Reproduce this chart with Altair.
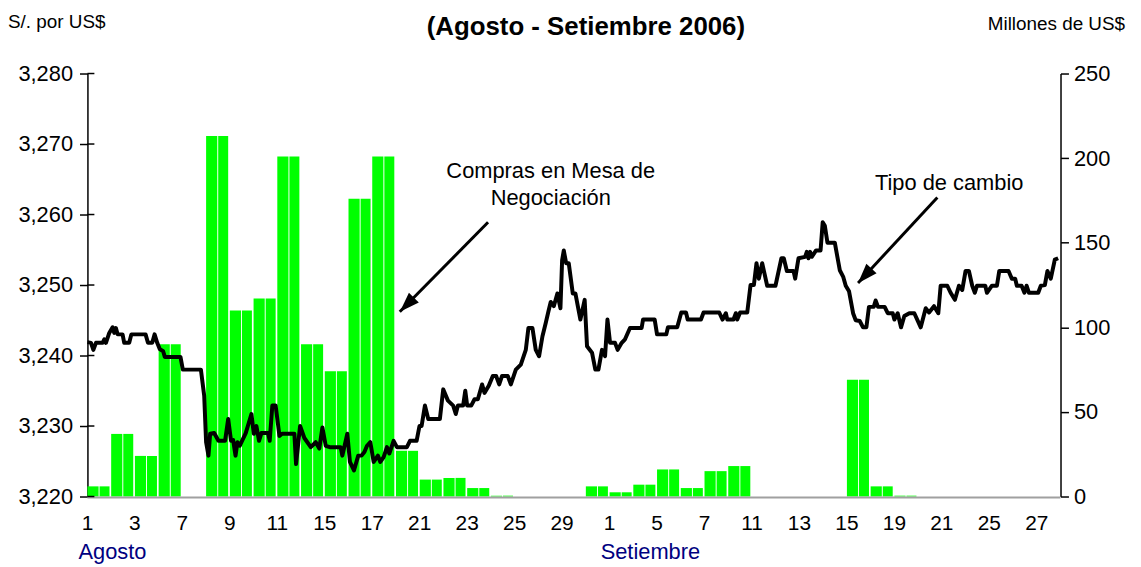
import altair as alt
import pandas as pd

FONT = "Liberation Sans"

# Trading days (Aug 2006 and Sep 2006), one entry per bar slot
dias = ["1", "2", "3", "4", "7", "8", "9", "10", "11", "14", "15", "16", "17", "18",
        "21", "22", "23", "24", "25", "28", "29", "31",
        "1", "4", "5", "6", "7", "8", "11", "12", "13", "14", "15", "18", "19", "20",
        "21", "22", "25", "26", "27"]

# Compras en Mesa de Negociación (millones de US$), per trading day
compras = [6, 37, 24, 90, 0, 213, 110, 117, 201, 90, 74, 176, 201, 27, 10, 11, 5, 0.5,
           0, 0, 0, 6,
           2.5, 7, 16, 5, 15, 18, 0, 0, 0, 0, 69, 6, 0.5, 0, 0, 0, 0, 0, 0]

meses = ["Agosto", "Setiembre"]
mes_inicio = [0, 22]

# Tipo de cambio intradiario: (trading-day index, S/. por US$)
tipo_cambio = [
    (0.00, 3.2419), (0.15, 3.2418), (0.25, 3.2408), (0.36, 3.2418), (0.64, 3.2418), (0.71, 3.2423), (0.78, 3.2418), (0.92, 3.2432), (1.06, 3.2440), (1.13, 3.2432),
    (1.20, 3.2439), (1.27, 3.2430), (1.48, 3.2430), (1.55, 3.2418), (1.76, 3.2418), (1.85, 3.2430), (2.45, 3.2430), (2.55, 3.2418), (2.73, 3.2418), (2.83, 3.2430),
    (2.94, 3.2418), (3.05, 3.2409), (3.19, 3.2406), (3.26, 3.2398), (3.92, 3.2398), (4.02, 3.2380), (4.78, 3.2380), (4.92, 3.2343), (5.00, 3.2277), (5.10, 3.2258),
    (5.17, 3.2289), (5.34, 3.2290), (5.52, 3.2279), (5.80, 3.2279), (5.93, 3.2310), (6.05, 3.2279), (6.14, 3.2280), (6.24, 3.2258), (6.32, 3.2277), (6.42, 3.2272),
    (6.53, 3.2280), (6.67, 3.2290), (6.91, 3.2317), (7.01, 3.2289), (7.12, 3.2300), (7.23, 3.2279), (7.33, 3.2290), (7.61, 3.2290), (7.68, 3.2279), (7.79, 3.2329),
    (7.93, 3.2329), (8.09, 3.2286), (8.20, 3.2289), (8.72, 3.2289), (8.79, 3.2246), (8.96, 3.2300), (9.14, 3.2283), (9.41, 3.2270), (9.62, 3.2277), (9.77, 3.2268),
    (9.90, 3.2298), (10.04, 3.2272), (10.21, 3.2270), (10.67, 3.2270), (10.74, 3.2258), (10.95, 3.2289), (11.06, 3.2249), (11.23, 3.2237), (11.41, 3.2258), (11.55, 3.2258),
    (11.67, 3.2263), (11.78, 3.2272), (11.92, 3.2277), (12.06, 3.2249), (12.24, 3.2258), (12.34, 3.2249), (12.48, 3.2256), (12.62, 3.2270), (12.72, 3.2261), (12.90, 3.2279),
    (13.04, 3.2270), (13.46, 3.2270), (13.59, 3.2279), (13.87, 3.2279), (13.99, 3.2300), (14.08, 3.2300), (14.22, 3.2329), (14.36, 3.2310), (14.85, 3.2310), (14.99, 3.2352),
    (15.19, 3.2336), (15.41, 3.2329), (15.52, 3.2317), (15.61, 3.2329), (15.83, 3.2329), (15.92, 3.2350), (16.00, 3.2329), (16.17, 3.2329), (16.31, 3.2338), (16.45, 3.2338),
    (16.63, 3.2359), (16.73, 3.2347), (16.91, 3.2357), (17.08, 3.2371), (17.22, 3.2371), (17.35, 3.2359), (17.47, 3.2371), (17.71, 3.2371), (17.84, 3.2359), (18.05, 3.2380),
    (18.26, 3.2387), (18.47, 3.2408), (18.58, 3.2439), (18.75, 3.2439), (18.89, 3.2408), (19.03, 3.2399), (19.17, 3.2427), (19.31, 3.2446), (19.42, 3.2462), (19.52, 3.2476),
    (19.65, 3.2470), (19.80, 3.2488), (19.93, 3.2467), (20.00, 3.2535), (20.07, 3.2549), (20.17, 3.2531), (20.28, 3.2531), (20.45, 3.2488), (20.56, 3.2488), (20.77, 3.2451),
    (20.95, 3.2479), (21.05, 3.2413), (21.26, 3.2404), (21.40, 3.2380), (21.53, 3.2380), (21.68, 3.2408), (21.81, 3.2399), (21.91, 3.2451), (22.02, 3.2418), (22.23, 3.2418),
    (22.34, 3.2408), (22.51, 3.2418), (22.65, 3.2423), (22.86, 3.2439), (23.35, 3.2439), (23.41, 3.2451), (23.90, 3.2451), (24.00, 3.2430), (24.39, 3.2430), (24.46, 3.2440),
    (24.85, 3.2440), (25.02, 3.2461), (25.22, 3.2461), (25.29, 3.2451), (25.85, 3.2451), (25.96, 3.2461), (26.62, 3.2461), (26.76, 3.2451), (26.90, 3.2460), (26.96, 3.2451),
    (27.22, 3.2451), (27.32, 3.2460), (27.38, 3.2451), (27.50, 3.2461), (27.80, 3.2461), (27.94, 3.2500), (28.08, 3.2500), (28.19, 3.2531), (28.29, 3.2509), (28.43, 3.2531),
    (28.64, 3.2499), (28.99, 3.2499), (29.24, 3.2538), (29.34, 3.2538), (29.47, 3.2520), (29.75, 3.2520), (29.82, 3.2509), (29.96, 3.2538), (30.24, 3.2540), (30.31, 3.2547),
    (30.38, 3.2538), (30.45, 3.2547), (30.52, 3.2540), (30.70, 3.2549), (30.89, 3.2549), (30.98, 3.2589), (31.07, 3.2584), (31.18, 3.2560), (31.49, 3.2560), (31.70, 3.2521),
    (31.84, 3.2512), (31.95, 3.2499), (32.09, 3.2491), (32.26, 3.2460), (32.37, 3.2450), (32.54, 3.2449), (32.68, 3.2440), (32.82, 3.2440), (32.93, 3.2469), (33.13, 3.2469),
    (33.21, 3.2478), (33.31, 3.2469), (33.59, 3.2469), (33.72, 3.2460), (33.93, 3.2460), (34.00, 3.2451), (34.14, 3.2460), (34.28, 3.2440), (34.42, 3.2456), (34.63, 3.2460),
    (34.84, 3.2460), (35.11, 3.2440), (35.32, 3.2467), (35.46, 3.2461), (35.67, 3.2470), (35.85, 3.2460), (35.95, 3.2499), (36.23, 3.2499), (36.37, 3.2489), (36.55, 3.2479),
    (36.72, 3.2499), (36.86, 3.2493), (37.00, 3.2520), (37.14, 3.2520), (37.28, 3.2499), (37.39, 3.2489), (37.48, 3.2499), (37.83, 3.2499), (37.90, 3.2489), (38.11, 3.2499),
    (38.32, 3.2499), (38.42, 3.2520), (38.81, 3.2520), (38.95, 3.2509), (39.09, 3.2509), (39.16, 3.2499), (39.36, 3.2499), (39.48, 3.2489), (39.57, 3.2499), (39.67, 3.2489),
    (40.06, 3.2489), (40.17, 3.2499), (40.34, 3.2500), (40.45, 3.2520), (40.59, 3.2509), (40.76, 3.2536), (40.90, 3.2538),
]

ticks_izq = [3.22, 3.23, 3.24, 3.25, 3.26, 3.27, 3.28]
ticks_der = [0, 50, 100, 150, 200, 250]

# Annotations (in data units): text and arrows
notas = [
    {"t": 19.52, "v": 3.2662, "s": "Compras en Mesa de"},
    {"t": 19.52, "v": 3.2623, "s": "Negociación"},
    {"t": 36.31, "v": 3.2645, "s": "Tipo de cambio"},
]
flechas = [
    {"t": 16.88, "v": 3.2589, "t2": 13.16, "v2": 3.2462, "ht": 13.46, "hv": 3.2472, "ang": 224.7},
    {"t": 35.81, "v": 3.2624, "t2": 32.47, "v2": 3.2503, "ht": 32.75, "hv": 3.2513, "ang": 222.9},
]

# ---------------------------------------------------------------------------
X = alt.Scale(domain=[0, 41], nice=False, zero=False)
YL = alt.Scale(domain=[3.22, 3.28], nice=False, zero=False)
YR = alt.Scale(domain=[0, 250], nice=False, zero=True)

rows = []
for i, m in enumerate(compras):
    if m <= 0:
        continue
    for a, b in ((0.0, 0.47), (0.51, 0.93)):
        rows.append({"t0": i + a, "t1": i + b, "monto": m})
barras_df = pd.DataFrame(rows)
linea_df = pd.DataFrame(tipo_cambio, columns=["t", "tc"])
ticks_df = pd.DataFrame({"v": ticks_izq})
notas_df = pd.DataFrame(notas)
flechas_df = pd.DataFrame(flechas)
meses_df = pd.DataFrame({"t": mes_inicio, "s": meses})
xlab_df = pd.DataFrame({"t": list(range(0, len(dias), 2)),
                        "s": [dias[i] for i in range(0, len(dias), 2)]})

bars = alt.Chart(barras_df).mark_rect(color="#00FF00").encode(
    x=alt.X("t0:Q", scale=X, axis=None),
    x2="t1:Q",
    y=alt.Y("monto:Q", scale=YR, axis=alt.Axis(
        orient="right", values=ticks_der, tickSize=8, tickColor="black", tickWidth=1.5,
        domainColor="black", domainWidth=1.5, labelFontSize=22, labelPadding=5,
        labelColor="black", grid=False, title=None, labelFont=FONT)),
    y2=alt.datum(0),
)

# gray category-axis baseline along the bottom of the plot
baseline = alt.Chart(alt.Data(values=[{"b": 0}])).mark_rule(
    color="#a0a0a0", strokeWidth=2
).encode(x=alt.value(0), x2=alt.value(980), y=alt.value(427))

line = alt.Chart(linea_df).mark_line(color="black", strokeWidth=4, strokeJoin="round").encode(
    x=alt.X("t:Q", scale=X, axis=None),
    y=alt.Y("tc:Q", scale=YL, axis=alt.Axis(
        orient="left", values=ticks_izq, format=",.3f",
        tickSize=8, tickColor="black", tickWidth=1.5, domainColor="black",
        domainWidth=1.5, labelFontSize=22, labelPadding=7, labelColor="black",
        grid=False, title=None, labelFont=FONT)),
)

inner_ticks = alt.Chart(ticks_df).mark_rule(color="black", strokeWidth=1.5).encode(
    y=alt.Y("v:Q", scale=YL, axis=None),
    x=alt.value(0), x2=alt.value(7),
)

arrows = alt.Chart(flechas_df).mark_rule(color="black", strokeWidth=3).encode(
    x=alt.X("t:Q", scale=X, axis=None), x2="t2:Q",
    y=alt.Y("v:Q", scale=YL, axis=None), y2="v2:Q",
)

heads = alt.Chart(flechas_df).mark_point(
    shape="M0,-1L0.7,1L-0.7,1Z", filled=True, color="black", opacity=1, size=400
).encode(
    x=alt.X("ht:Q", scale=X, axis=None),
    y=alt.Y("hv:Q", scale=YL, axis=None),
    angle=alt.Angle("ang:Q", scale=None),
)

notes = alt.Chart(notas_df).mark_text(font=FONT, fontSize=22, color="black").encode(
    x=alt.X("t:Q", scale=X, axis=None),
    y=alt.Y("v:Q", scale=YL, axis=None),
    text="s:N",
)

xlabels = alt.Chart(xlab_df).mark_text(
    font=FONT, fontSize=21, color="black", align="center", baseline="middle"
).encode(
    x=alt.X("t:Q", scale=X, axis=None),
    y=alt.value(454),
    text="s:N",
)

months = alt.Chart(meses_df).mark_text(
    font=FONT, fontSize=22, color="#000080", align="left", baseline="middle", dx=-9
).encode(
    x=alt.X("t:Q", scale=X, axis=None),
    y=alt.value(482),
    text="s:N",
)


def texto(s, x, y, size, bold=False, align="center"):
    return alt.Chart(alt.Data(values=[{"s": s}])).mark_text(
        font=FONT, fontSize=size, fontWeight="bold" if bold else "normal",
        color="black", align=align, baseline="middle"
    ).encode(text="s:N", x=alt.value(x), y=alt.value(y))


header_l = texto("S/. por US$", -80, -52, 19, align="left")
header_r = texto("Millones de US$", 1045, -50, 19, align="right")
title2 = texto("(Agosto - Setiembre 2006)", 502, -47, 26, bold=True)

chart = alt.layer(
    bars, baseline, line, inner_ticks, arrows, heads, notes, xlabels, months,
    header_l, header_r, title2
).resolve_scale(y="independent").properties(
    width=980, height=426,
    autosize=alt.AutoSizeParams(type="none"),
    padding={"left": 80, "top": 64, "right": 73, "bottom": 69},
).configure(
    font=FONT,
    locale={"number": {"decimal": ",", "thousands": ".", "grouping": [3],
                       "currency": ["", ""]}},
).configure_view(stroke=None)

chart.save("out.html", embed_options={"renderer": "svg", "actions": False})
